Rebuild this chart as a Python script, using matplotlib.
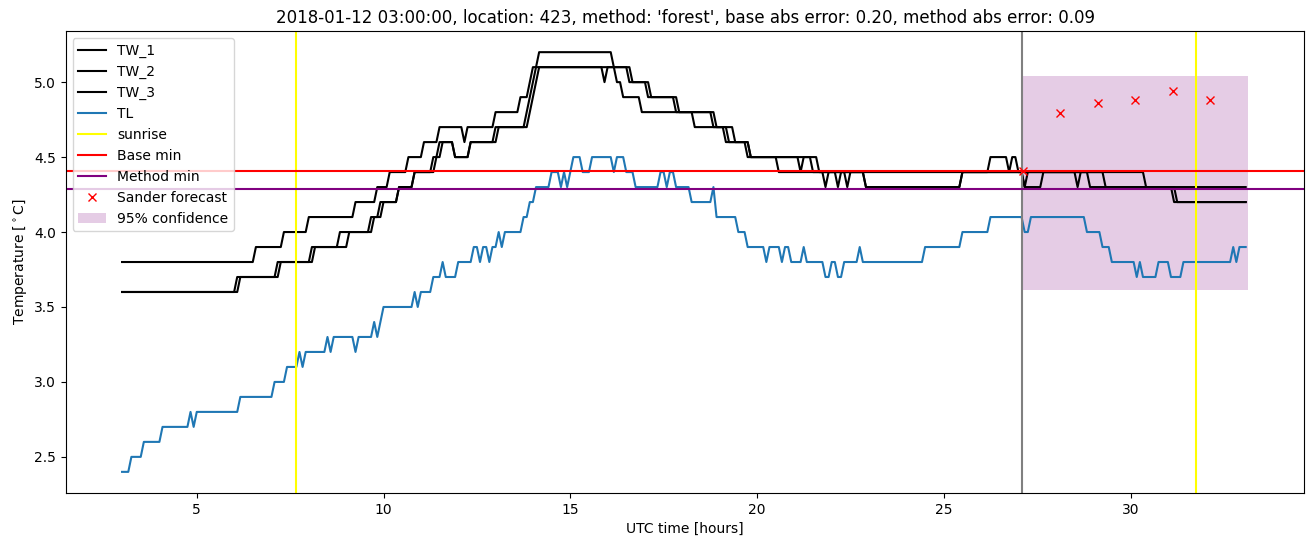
import numpy as np
import matplotlib
matplotlib.use('Agg')
import matplotlib.pyplot as plt

# 5 minute samples, hours since 2018-01-12 00:00 UTC
n_samples = 362
t0 = 3.0

# (hour, value) at which each series changes level
tw1_steps = [(3.0, 3.8), (6.583, 3.9), (7.333, 4.0), (8.0, 4.1), (9.25, 4.2), (9.833, 4.3),
             (10.167, 4.4), (10.667, 4.5), (11.083, 4.6), (11.5, 4.7), (12.167, 4.6), (12.25, 4.7),
             (13.0, 4.8), (13.667, 4.9), (13.917, 5.0), (14.0, 5.1), (14.167, 5.2), (16.167, 5.1),
             (16.25, 5.0), (16.417, 4.9), (16.917, 4.8), (18.333, 4.7), (19.167, 4.6), (19.75, 4.5),
             (20.583, 4.4), (26.25, 4.5), (26.75, 4.4), (26.833, 4.5), (27.0, 4.4), (27.167, 4.3),
             (27.25, 4.4), (28.583, 4.3), (28.667, 4.4), (28.917, 4.3), (31.167, 4.2)]

tw2_steps = [(3.0, 3.6), (6.083, 3.7), (7.167, 3.8), (8.083, 3.9), (8.833, 4.0), (9.667, 4.1),
             (9.917, 4.2), (10.417, 4.3), (10.833, 4.4), (11.333, 4.5), (11.5, 4.6), (11.917, 4.5),
             (12.333, 4.6), (13.0, 4.7), (13.833, 4.8), (13.917, 4.9), (14.0, 5.0), (14.083, 5.1),
             (16.583, 5.0), (17.083, 4.9), (17.833, 4.8), (18.833, 4.7), (19.25, 4.6), (19.833, 4.5),
             (21.167, 4.4), (21.25, 4.5), (21.5, 4.4), (21.833, 4.3), (21.917, 4.4), (22.167, 4.3),
             (22.25, 4.4), (22.917, 4.3), (25.5, 4.4), (27.167, 4.3), (27.667, 4.4), (29.333, 4.3)]

tw3_steps = [(3.0, 3.6), (6.167, 3.7), (7.25, 3.8), (8.167, 3.9), (9.083, 4.0), (9.75, 4.1),
             (10.0, 4.2), (10.417, 4.3), (10.833, 4.4), (11.417, 4.5), (11.583, 4.6), (11.917, 4.5),
             (12.333, 4.6), (13.083, 4.7), (13.917, 4.8), (14.0, 4.9), (14.083, 5.0), (14.167, 5.1),
             (15.917, 5.0), (16.0, 5.1), (16.667, 5.0), (17.167, 4.9), (17.917, 4.8), (18.917, 4.7),
             (19.417, 4.6), (19.833, 4.5), (21.667, 4.4), (22.417, 4.3), (22.5, 4.4), (22.917, 4.3),
             (25.5, 4.4), (30.417, 4.3), (31.25, 4.2)]

tl_steps = [(3.0, 2.4), (3.25, 2.5), (3.583, 2.6), (4.083, 2.7), (4.833, 2.8), (4.917, 2.7),
            (5.0, 2.8), (6.167, 2.9), (7.083, 3.0), (7.417, 3.1), (7.75, 3.2), (7.833, 3.1),
            (7.917, 3.2), (8.5, 3.3), (8.583, 3.2), (8.667, 3.3), (9.25, 3.2), (9.333, 3.3),
            (9.75, 3.4), (9.833, 3.3), (9.917, 3.4), (10.0, 3.5), (10.833, 3.6), (10.917, 3.5),
            (11.0, 3.6), (11.333, 3.7), (11.583, 3.8), (11.667, 3.7), (12.0, 3.8), (12.417, 3.9),
            (12.583, 3.8), (12.667, 3.9), (12.833, 3.8), (12.917, 3.9), (13.083, 4.0), (13.167, 3.9),
            (13.25, 4.0), (13.75, 4.1), (13.917, 4.2), (14.083, 4.3), (14.5, 4.4), (14.75, 4.3),
            (14.833, 4.4), (14.917, 4.3), (15.0, 4.4), (15.083, 4.5), (15.333, 4.4), (15.583, 4.5),
            (16.167, 4.4), (16.25, 4.5), (16.5, 4.4), (16.75, 4.3), (17.417, 4.4), (17.583, 4.3),
            (17.667, 4.4), (17.833, 4.3), (18.25, 4.2), (18.833, 4.3), (18.917, 4.1), (19.5, 4.0),
            (19.75, 3.9), (20.25, 3.8), (20.333, 3.9), (20.667, 3.8), (20.75, 3.9), (20.917, 3.8),
            (21.25, 3.9), (21.333, 3.8), (21.833, 3.7), (22.0, 3.8), (22.167, 3.7), (22.333, 3.8),
            (22.75, 3.9), (22.833, 3.8), (24.5, 3.9), (25.5, 4.0), (26.25, 4.1), (27.167, 4.0),
            (27.333, 4.1), (28.833, 4.0), (29.25, 3.9), (29.5, 3.8), (30.167, 3.7), (30.25, 3.8),
            (30.333, 3.7), (30.75, 3.8), (31.083, 3.7), (31.417, 3.8), (32.75, 3.9), (32.833, 3.8),
            (32.917, 3.9)]

sunrise = [7.667, 31.757]
now_hour = 27.085
base_min = 4.407
method_min = 4.289
forecast_hours = [27.12, 28.125, 29.125, 30.125, 31.125, 32.14]
forecast_values = [4.407, 4.793, 4.864, 4.884, 4.944, 4.884]
conf_low, conf_high = 3.61, 5.04
conf_end = 33.15

title = "2018-01-12 03:00:00, location: 423, method: 'forest', base abs error: 0.20, method abs error: 0.09"

hours = t0 + np.arange(n_samples) / 12.0

#turn level changes into the sampled series
def expand(steps):
    out = np.zeros(n_samples)
    for h, v in steps:
        out[int(round((h - t0) * 12)):] = v
    return out

fig = plt.figure(figsize=(13.15, 5.47), dpi=100)
ax = fig.add_subplot(111)
fig.subplots_adjust(left=0.050, right=0.992, top=0.943, bottom=0.099)

ax.plot(hours, expand(tw1_steps), color='black', label='TW_1')
ax.plot(hours, expand(tw2_steps), color='black', label='TW_2')
ax.plot(hours, expand(tw3_steps), color='black', label='TW_3')
ax.plot(hours, expand(tl_steps), color='tab:blue', label='TL')

for i, s in enumerate(sunrise):
    ax.axvline(s, color='yellow', label='sunrise' if i == 0 else None)
ax.axvline(now_hour, color='grey')
ax.axhline(base_min, color='red', label='Base min')
ax.axhline(method_min, color='purple', label='Method min')

ax.plot(forecast_hours, forecast_values, 'rx', label='Sander forecast')
ax.fill_between([now_hour, conf_end], conf_low, conf_high,
                color='purple', alpha=0.2, linewidth=0, label='95% confidence')

ax.set_title(title)
ax.set_xlabel('UTC time [hours]')
ax.set_ylabel(r'Temperature [$^\circ$C]')
ax.legend(loc='upper left')

fig.savefig('out.png')
